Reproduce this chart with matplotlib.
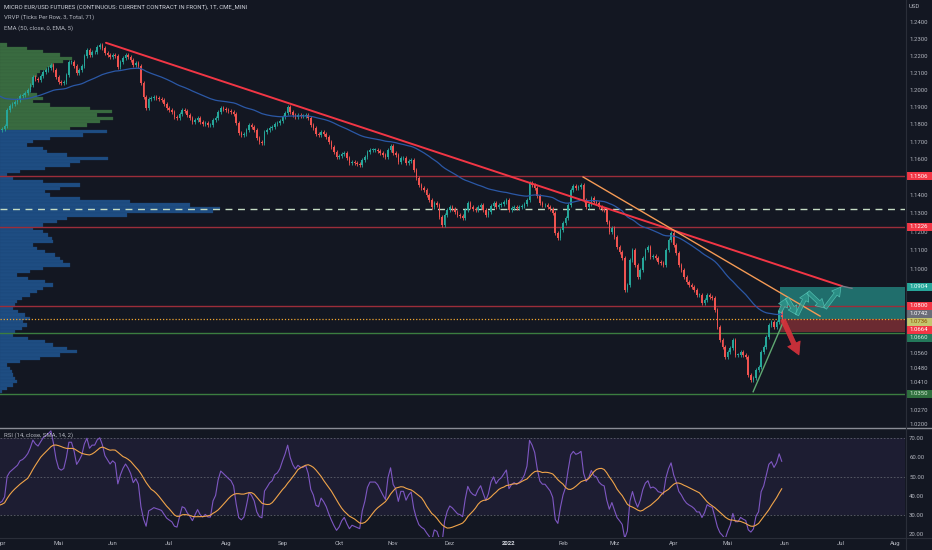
import numpy as np
import pandas as pd
import matplotlib
matplotlib.use("Agg")
import matplotlib.pyplot as plt
from matplotlib.patches import Rectangle
from matplotlib.lines import Line2D
from matplotlib.ticker import FixedLocator, NullLocator, FuncFormatter

plt.rcParams['font.family'] = ['Roboto', 'DejaVu Sans']

# ---- data ----
FIRST_DAY = "2021-03-29"
CLOSE = [
    1.1749, 1.1755, 1.1766, 1.1772, 1.1789,
    1.1881, 1.1904, 1.1916, 1.1927, 1.1939,
    1.1962, 1.1968, 1.1980, 1.1997, 1.2027,
    1.2073, 1.2062, 1.2056, 1.2079, 1.2103,
    1.2115, 1.2127, 1.2144, 1.2115, 1.2073,
    1.2044, 1.2038, 1.2044, 1.2085, 1.2162,
    1.2162, 1.2138, 1.2097, 1.2115, 1.2138,
    1.2197, 1.2233, 1.2203, 1.2221, 1.2221,
    1.2251, 1.2263, 1.2245, 1.2215, 1.2203,
    1.2191, 1.2203, 1.2197, 1.2132, 1.2162,
    1.2186, 1.2203, 1.2191, 1.2174, 1.2144,
    1.2156, 1.2138, 1.2038, 1.1956, 1.1893,
    1.1945, 1.1950, 1.1956, 1.1950, 1.1945,
    1.1939, 1.1916, 1.1893, 1.1881, 1.1870,
    1.1841, 1.1835, 1.1858, 1.1881, 1.1875,
    1.1852, 1.1835, 1.1812, 1.1824, 1.1835,
    1.1812, 1.1801, 1.1806, 1.1795, 1.1795,
    1.1824, 1.1835, 1.1870, 1.1893, 1.1887,
    1.1881, 1.1875, 1.1870, 1.1858, 1.1806,
    1.1749, 1.1738, 1.1743, 1.1766, 1.1795,
    1.1784, 1.1766, 1.1721, 1.1698, 1.1692,
    1.1755, 1.1766, 1.1778, 1.1784, 1.1801,
    1.1806, 1.1818, 1.1841, 1.1864, 1.1898,
    1.1870, 1.1852, 1.1841, 1.1852, 1.1847,
    1.1847, 1.1852, 1.1835, 1.1795, 1.1778,
    1.1743, 1.1738, 1.1755, 1.1743, 1.1726,
    1.1698, 1.1670, 1.1641, 1.1613, 1.1619,
    1.1630, 1.1636, 1.1607, 1.1579, 1.1585,
    1.1579, 1.1573, 1.1568, 1.1596, 1.1613,
    1.1641, 1.1653, 1.1653, 1.1653, 1.1647,
    1.1636, 1.1624, 1.1613, 1.1653, 1.1675,
    1.1636, 1.1624, 1.1585, 1.1607, 1.1607,
    1.1579, 1.1590, 1.1596, 1.1540, 1.1495,
    1.1456, 1.1439, 1.1428, 1.1400, 1.1373,
    1.1334, 1.1356, 1.1345, 1.1279, 1.1236,
    1.1290, 1.1318, 1.1334, 1.1323, 1.1307,
    1.1290, 1.1285, 1.1274, 1.1318, 1.1356,
    1.1334, 1.1323, 1.1318, 1.1334, 1.1345,
    1.1318, 1.1290, 1.1307, 1.1340, 1.1356,
    1.1334, 1.1345, 1.1351, 1.1362, 1.1373,
    1.1318, 1.1329, 1.1334, 1.1329, 1.1334,
    1.1340, 1.1351, 1.1373, 1.1467, 1.1456,
    1.1439, 1.1395, 1.1356, 1.1345, 1.1345,
    1.1334, 1.1323, 1.1301, 1.1192, 1.1165,
    1.1208, 1.1247, 1.1274, 1.1345, 1.1428,
    1.1450, 1.1439, 1.1445, 1.1456, 1.1373,
    1.1334, 1.1351, 1.1384, 1.1362, 1.1356,
    1.1334, 1.1323, 1.1318, 1.1252, 1.1197,
    1.1219, 1.1170, 1.1116, 1.1089, 1.1057,
    1.0886, 1.0913, 1.1046, 1.1100, 1.1019,
    1.0955, 1.0992, 1.1057, 1.1100, 1.1116,
    1.1062, 1.1068, 1.1057, 1.1035, 1.1030,
    1.1019, 1.1100, 1.1154, 1.1192, 1.1127,
    1.1084, 1.1019, 1.0992, 1.0955, 1.0928,
    1.0913, 1.0902, 1.0886, 1.0860, 1.0860,
    1.0817, 1.0833, 1.0860, 1.0849, 1.0844,
    1.0781, 1.0692, 1.0625, 1.0589, 1.0537,
    1.0563, 1.0584, 1.0625, 1.0548, 1.0548,
    1.0563, 1.0548, 1.0537, 1.0446, 1.0420,
    1.0430, 1.0471, 1.0486, 1.0563, 1.0589,
    1.0640, 1.0702, 1.0718, 1.0692, 1.0718,
    1.0774, 1.0742,
]
EMA_SEED = 1.1980          # EMA value at the first bar
RSI_SEED_GAIN = 0.0014
RSI_SEED_LOSS = 0.0027

LEVELS_RED = [1.1506, 1.1226, 1.0800]
POC = 1.1322
ENTRY = 1.0736
LEVELS_GREEN = [1.0660, 1.0350]
TARGET_TOP = 1.0904
STOP_BOTTOM = 1.0664
BOX_START = 305.3  # bar index

# drawings as (bar index, price)
TREND_MAIN = ([43.4, 329.4], [1.2276, 1.0907])
TREND_STUB = ([329.4, 333.3], [1.0907, 1.0895])
TREND_ORANGE = ([228.8, 320.9], [1.1501, 1.0749])
TREND_GREEN = ([294.9, 306.9], [1.0361, 1.0728])
ZIGZAG_X = [305.3, 308.0, 311.9, 316.2, 322.8, 329.0]
ZIGZAG_Y = [1.0770, 1.0844, 1.0755, 1.0875, 1.0791, 1.0902]
DOWN_ARROW = ([306.5, 312.7], [1.0730, 1.0548])

# visible range volume profile, rows from top to bottom
VP_TOP, VP_BOTTOM = 1.2273, 1.0353
VP_VOLUME = [
    7, 27, 43, 60, 72, 63, 53, 47, 40, 37, 33, 33, 32, 31, 30, 37, 43, 33, 50, 90,
    112, 97, 113, 100, 87, 70,
    107, 83, 50, 33, 27, 43, 47, 67, 108, 80, 70, 45, 20, 7, 13, 43, 80, 60, 45, 50,
    80, 130, 190, 220, 213, 127, 67, 57, 43, 33, 43, 48, 52, 53, 33, 37, 45, 55, 60,
    63, 70, 43, 30, 17, 28, 45, 53, 43, 37, 30, 22, 17, 15, 13, 18, 25, 30, 23, 27,
    22, 15, 13, 28, 45, 53, 67, 77, 60, 40, 20, 7, 10, 12, 13, 15, 17, 13, 7, 2,
]
VP_GREEN_ROWS = 26

PRICE_TICKS = [1.2400, 1.2300, 1.2200, 1.2100, 1.2000, 1.1900, 1.1800, 1.1700, 1.1600,
               1.1400, 1.1300, 1.1200, 1.1100, 1.1000, 1.0720,
               1.0560, 1.0480, 1.0410, 1.0270, 1.0200]
RSI_TICKS = [20, 30, 40, 50, 60, 70]
MONTH_NAMES = ['Apr', 'Mai', 'Jun', 'Jul', 'Aug', 'Sep', 'Okt', 'Nov', 'Dez',
               '2022', 'Feb', 'Mrz', 'Apr', 'Mai', 'Jun', 'Jul', 'Aug']

HEADER = ["MICRO EUR/USD FUTURES (CONTINUOUS: CURRENT CONTRACT IN FRONT), 1T, CME_MINI",
          "VRVP (Ticks Per Row, 3, Total, 71)",
          "EMA (50, close, 0, EMA, 5)"]
RSI_TITLE = "RSI (14, close, SMA, 14, 2)"

# ---- style ----
BG = '#131722'
TXT = '#b2b5be'
UP, DOWN = '#26a69a', '#ef5350'
WICK = 0.0012
FS = 4.3
W, H = 932, 550

close = np.array(CLOSE)
n = len(close)
bars = np.arange(n)
opens = np.r_[close[0], close[:-1]]
highs = np.maximum(opens, close) + WICK
lows = np.minimum(opens, close) - WICK
cols = np.where(close >= opens, UP, DOWN)

ema = np.empty(n)
ema[0] = EMA_SEED
alpha = 2 / 51
for i in range(1, n):
    ema[i] = alpha * close[i] + (1 - alpha) * ema[i - 1]

g, l = RSI_SEED_GAIN, RSI_SEED_LOSS
rsi = np.empty(n)
rsi[0] = 100 - 100 / (1 + g / l)
for i in range(1, n):
    d = close[i] - close[i - 1]
    g = (g * 13 + max(d, 0)) / 14
    l = (l * 13 + max(-d, 0)) / 14
    rsi[i] = 100 - 100 / (1 + g / l)
rsi_ma = pd.Series(rsi).rolling(14, min_periods=1).mean().values

calendar = pd.bdate_range(FIRST_DAY, "2022-08-12")
month_pos = []
seen = set()
for i, d in enumerate(calendar):
    key = (d.year, d.month)
    if key not in seen:
        seen.add(key)
        month_pos.append(i)
month_pos = month_pos[1:1 + len(MONTH_NAMES)]

fig = plt.figure(figsize=(W / 100, H / 100), dpi=100, facecolor=BG)
ax = fig.add_axes([0, 1 - 427 / H, 905 / W, 427 / H], facecolor=BG)
rax = fig.add_axes([0, 1 - 537 / H, 905 / W, 109 / H], facecolor=BG, sharex=ax)

ax.set_yscale('log')
ax.set_ylim(1.0185, 1.2534)
ax.set_xlim(2.22, 353.9)

# volume profile
edges = np.geomspace(VP_TOP, VP_BOTTOM, len(VP_VOLUME) + 1)
vmax = max(VP_VOLUME)
for i, v in enumerate(VP_VOLUME):
    green = i < VP_GREEN_ROWS
    ax.add_patch(Rectangle((0, edges[i + 1]), v / vmax * 0.243, edges[i] - edges[i + 1],
                           transform=ax.get_yaxis_transform(),
                           facecolor='#396b40' if green else '#1e4d82',
                           edgecolor='#335f3a' if green else '#1b4574',
                           lw=0.2, zorder=1))

# boxes
ax.add_patch(Rectangle((BOX_START, ENTRY), 100, TARGET_TOP - ENTRY, facecolor='#206e6c',
                       edgecolor='none', zorder=2))
ax.add_patch(Rectangle((BOX_START, STOP_BOTTOM), 100, ENTRY - STOP_BOTTOM, facecolor='#6b2a31',
                       edgecolor='none', zorder=2))

for lv in LEVELS_RED:
    ax.axhline(lv, color='#9c2d3a', lw=1.0, zorder=3)
for lv in LEVELS_GREEN:
    ax.axhline(lv, color='#3b7d40', lw=1.0, zorder=3)
ax.axhline(POC, color='#c5dcc3', lw=1.0, dashes=(5, 4), zorder=3)
ax.axhline(ENTRY, color='#f0a530', lw=0.9, dashes=(1, 1.5), zorder=3)

# candles
ax.vlines(bars, lows, highs, colors=cols, lw=0.6, zorder=4)
ax.bar(bars, np.maximum(np.abs(close - opens), 0.0003), bottom=np.minimum(opens, close),
       width=0.62, color=cols, linewidth=0, zorder=5)
ax.plot(bars, ema, color='#2b58a6', lw=0.9, zorder=6)

# drawings
ax.plot(*TREND_MAIN, color='#f23645', lw=1.4, zorder=7, solid_capstyle='round')
ax.plot(*TREND_STUB, color='#787b86', lw=1.0, zorder=7)
ax.plot(*TREND_ORANGE, color='#f59a55', lw=1.0, zorder=7)
ax.plot(*TREND_GREEN, color='#5fa872', lw=1.0, zorder=7)
for i in range(len(ZIGZAG_X) - 1):
    ax.annotate('', xy=(ZIGZAG_X[i + 1], ZIGZAG_Y[i + 1]), xytext=(ZIGZAG_X[i], ZIGZAG_Y[i]),
                arrowprops=dict(arrowstyle='simple,head_length=0.7,head_width=0.8,tail_width=0.3',
                                fc='#2f9a8e', ec='#5ed0c0', lw=0.5, alpha=0.75,
                                shrinkA=0, shrinkB=0, mutation_scale=9), zorder=8)
ax.annotate('', xy=(DOWN_ARROW[0][1], DOWN_ARROW[1][1]), xytext=(DOWN_ARROW[0][0], DOWN_ARROW[1][0]),
            arrowprops=dict(arrowstyle='simple,head_length=0.8,head_width=0.9,tail_width=0.3',
                            fc='#d9323c', ec='#d9323c', lw=0.5, alpha=0.9,
                            shrinkA=0, shrinkB=0, mutation_scale=11), zorder=8)

# axes styling
for a in (ax, rax):
    for s in a.spines.values():
        s.set_visible(False)
    a.yaxis.tick_right()
    a.tick_params(axis='y', length=0, pad=3, labelsize=FS, labelcolor=TXT)
ax.yaxis.set_major_locator(FixedLocator(PRICE_TICKS))
ax.yaxis.set_minor_locator(NullLocator())
ax.yaxis.set_major_formatter(FuncFormatter(lambda v, p: f"{v:.4f}"))
ax.tick_params(axis='x', bottom=False, labelbottom=False)

# rsi pane
rax.set_ylim(18.6, 75.2)
rax.axhspan(30, 70, color='#7e57c2', alpha=0.1, lw=0)
for lv in (70, 50, 30):
    rax.axhline(lv, color='#5d606b', lw=0.6, dashes=(2, 2))
rax.plot(bars, rsi, color='#7e57c2', lw=0.8)
rax.plot(bars, rsi_ma, color='#f0a44a', lw=0.8)
rax.yaxis.set_major_locator(FixedLocator(RSI_TICKS))
rax.yaxis.set_major_formatter(FuncFormatter(lambda v, p: f"{v:.2f}"))
rax.set_xticks(month_pos)
rax.set_xticklabels(MONTH_NAMES)
rax.tick_params(axis='x', length=0, pad=3, labelsize=FS, labelcolor=TXT)
for t in rax.get_xticklabels():
    if t.get_text() == '2022':
        t.set_fontweight('bold')
        t.set_color('#d1d4dc')

# separators
fig.add_artist(Line2D([0, 1], [1 - 427.5 / H] * 2, color='#8a8d96', lw=1.0))
fig.add_artist(Line2D([0, 1], [1 - 537.5 / H] * 2, color='#2a2e39', lw=0.8))
fig.add_artist(Line2D([905.5 / W] * 2, [0, 1], color='#2a2e39', lw=0.8))

# headers
for k, t in enumerate(HEADER):
    fig.text(4 / W, 1 - (7 + 10.5 * k) / H, t, fontsize=FS, color='#d1d4dc' if k == 0 else TXT,
             va='center', ha='left')
fig.text(4 / W, 1 - 435 / H, RSI_TITLE, fontsize=FS, color=TXT, va='center')
fig.text(909 / W, 1 - 6 / H, 'USD', fontsize=FS, color=TXT, va='center')

# price labels on the right scale
labels = [(LEVELS_RED[0], '#f23645', '#ffffff'), (LEVELS_RED[1], '#f23645', '#ffffff'),
          (TARGET_TOP, '#26a69a', '#e8fffa'), (LEVELS_RED[2], '#f23645', '#ffffff'),
          (close[-1], '#6a6d78', '#ffffff'), (ENTRY, '#c3c66e', '#8a4b00'),
          (STOP_BOTTOM, '#f23645', '#ffffff'), (LEVELS_GREEN[0], '#23785a', '#cfeedd'),
          (LEVELS_GREEN[1], '#2f6f3e', '#d6f0d6')]
ys = np.array([H - ax.transData.transform((10, p))[1] for p, _, _ in labels])
order = np.argsort(ys)
for _ in range(60):
    for a_, b_ in zip(order[:-1], order[1:]):
        gap = ys[b_] - ys[a_]
        if gap < 8:
            ys[a_] -= (8 - gap) / 2
            ys[b_] += (8 - gap) / 2
for (p, bg, fg), y in zip(labels, ys):
    fig.add_artist(Rectangle((905.5 / W, 1 - (y + 4) / H), 26.5 / W, 8 / H,
                             transform=fig.transFigure, facecolor=bg, edgecolor='none'))
    fig.text(909 / W, 1 - y / H, f"{p:.4f}", fontsize=FS, color=fg, va='center', ha='left')

fig.savefig('out.png', dpi=100, facecolor=BG)
